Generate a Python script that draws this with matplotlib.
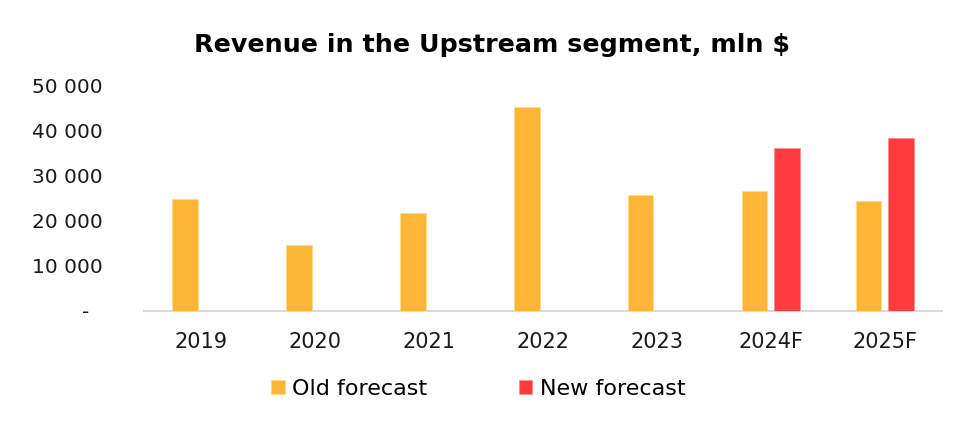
import matplotlib
matplotlib.use('Agg')
import matplotlib.pyplot as plt
from matplotlib.ticker import FuncFormatter
import numpy as np

# values, mln $
years = ['2019', '2020', '2021', '2022', '2023', '2024F', '2025F']
old_forecast = [24700, 14600, 21700, 45150, 25600, 26550, 24400]
new_forecast = [0, 0, 0, 0, 0, 36050, 38200]
y_ticks = [0, 10000, 20000, 30000, 40000, 50000]

orange = '#FFB636'
red = '#FF3B3F'

plt.rcParams['font.family'] = ['DejaVu Sans']

def thousands(x, pos):
    if x == 0:
        return '-  '
    return '{:,.0f}'.format(x).replace(',', ' ')

fig = plt.figure(figsize=(9.74, 4.21), dpi=100)
ax = fig.add_axes([0.148, 0.262, 0.819, 0.536])

x = np.arange(len(years))
w = 0.225
off = 0.143
ax.bar(x - off, old_forecast, w, color=orange, edgecolor='#FFD98A', linewidth=0.6, label='Old forecast', zorder=3)
ax.bar(x + off, new_forecast, w, color=red, edgecolor='#FF8C8E', linewidth=0.6, label='New forecast', zorder=3)

ax.set_xlim(-0.5, len(years) - 0.5)
ax.set_ylim(0, 50000)
ax.set_xticks(x)
ax.set_xticklabels(years)
ax.set_yticks(y_ticks)
ax.yaxis.set_major_formatter(FuncFormatter(thousands))

for s in ['top', 'right', 'left']:
    ax.spines[s].set_visible(False)
ax.spines['bottom'].set_color('#D9D9D9')
ax.spines['bottom'].set_linewidth(1.5)
ax.tick_params(axis='both', length=0, colors='#1a1a1a')
ax.tick_params(axis='x', pad=15, labelsize=15)
ax.tick_params(axis='y', pad=30, labelsize=14.5)

fig.text(0.505, 0.893, 'Revenue in the Upstream segment, mln $', ha='center', va='center',
         fontsize=18.3, fontweight='bold', color='black')

fig.legend(loc='center', bbox_to_anchor=(0.491, 0.076), ncol=2, frameon=False,
           fontsize=16, handlelength=0.6, handleheight=0.6, handletextpad=0.35,
           columnspacing=4.1)

fig.savefig('out.png', dpi=100, facecolor='white')
